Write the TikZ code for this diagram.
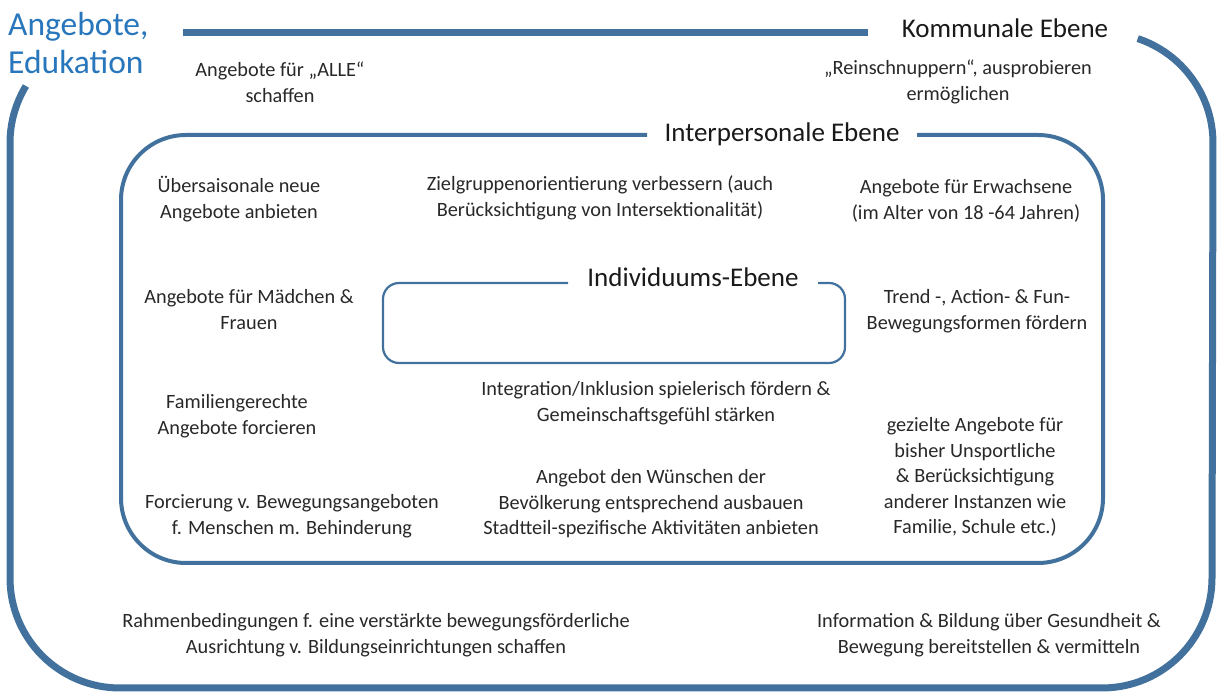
\documentclass[tikz,border=0pt]{standalone}
\usepackage{fontspec}
\setmainfont{Carlito}
\definecolor{framecol}{RGB}{65,113,156}
\definecolor{titleblue}{RGB}{40,118,188}
\definecolor{txt}{RGB}{40,40,40}
\begin{document}
\begin{tikzpicture}[x=1pt,y=1pt,
  body/.style={anchor=base, align=center, text=txt, inner sep=0pt, font=\fontsize{20.3}{25.5}\selectfont},
  heading/.style={anchor=base, inner sep=0pt, text=black!90, font=\fontsize{27}{32}\selectfont},
  outerline/.style={draw=framecol, line width=7pt},
  midline/.style={draw=framecol, line width=4pt},
  innerline/.style={draw=framecol, line width=2.2pt}]
\useasboundingbox (0,0) rectangle (1218,693);

% outer frame (Kommunale Ebene)
\coordinate (topL) at (183,660);
\coordinate (topR) at (868,660);
\draw[outerline] (topL) -- (topR);
\draw[outerline] (1137.7,654.4) arc[start angle=71.6, end angle=0, radius=110]
  -- (1212,115) arc[start angle=0, end angle=-90, radius=110]
  -- (120,5) arc[start angle=270, end angle=180, radius=110]
  -- (10,550) arc[start angle=180, end angle=148.8, radius=110];

% interpersonal frame
\draw[midline] (647,558) -- (186,558) arc[start angle=90, end angle=180, radius=65]
  -- (121,195) arc[start angle=180, end angle=270, radius=65]
  -- (1038,130) arc[start angle=270, end angle=360, radius=65]
  -- (1103,493) arc[start angle=0, end angle=90, radius=65] -- (917,558);

% individual frame
\draw[innerline] (568,410) -- (399,410) arc[start angle=90, end angle=180, radius=16]
  -- (383,346) arc[start angle=180, end angle=270, radius=16]
  -- (829,330) arc[start angle=270, end angle=360, radius=16]
  -- (845,394) arc[start angle=0, end angle=90, radius=16] -- (818,410);

% titles (anchor=base refers to the last line)
\node[anchor=base west, align=left, inner sep=0pt, text=titleblue,
  font=\fontsize{33.5}{38}\selectfont] (title) at (8,619) {Angebote,\\Edukation};
\node[heading] (kommunal) at (1005,655) {Kommunale Ebene};
\node[heading] (interpers) at (782,551) {Interpersonale Ebene};
\node[heading] (indiv) at (693,406) {Individuums-Ebene};

% texts
\node[body] (alle) at (280,590.5) {Angebote für „ALLE“\\schaffen};
\node[body] (rein) at (958,592.5) {„Reinschnuppern“, ausprobieren\\ermöglichen};
\node[body] (ueber) at (239,474.5) {Übersaisonale neue\\Angebote anbieten};
\node[body] (ziel) at (600,476.5) {Zielgruppenorientierung verbessern (auch\\Berücksichtigung von Intersektionalität)};
\node[body] (erw) at (966,473.5) {Angebote für Erwachsene\\(im Alter von 18 -64 Jahren)};
\node[body] (maed) at (249,363.5) {Angebote für Mädchen \&\\Frauen};
\node[body] (trend) at (977,363.5) {Trend -, Action- \& Fun-\\Bewegungsformen fördern};
\node[body] (integ) at (656,271.5) {Integration/Inklusion spielerisch fördern \&\\Gemeinschaftsgefühl stärken};
\node[body] (fam) at (237,258.5) {Familiengerechte\\Angebote forcieren};
\node[body] (gez) at (975,159) {gezielte Angebote für\\bisher Unsportliche\\\& Berücksichtigung\\anderer Instanzen wie\\Familie, Schule etc.)};
\node[body] (wuensche) at (651,158) {Angebot den Wünschen der\\Bevölkerung entsprechend ausbauen\\Stadtteil-spezifische Aktivitäten anbieten};
\node[body] (forc) at (292,158.5) {Forcierung v. Bewegungsangeboten\\f. Menschen m. Behinderung};
\node[body] (rahmen) at (376,39.5) {Rahmenbedingungen f. eine verstärkte bewegungsförderliche\\Ausrichtung v. Bildungseinrichtungen schaffen};
\node[body] (info) at (989,39.5) {Information \& Bildung über Gesundheit \&\\Bewegung bereitstellen \& vermitteln};
\end{tikzpicture}
\end{document}
